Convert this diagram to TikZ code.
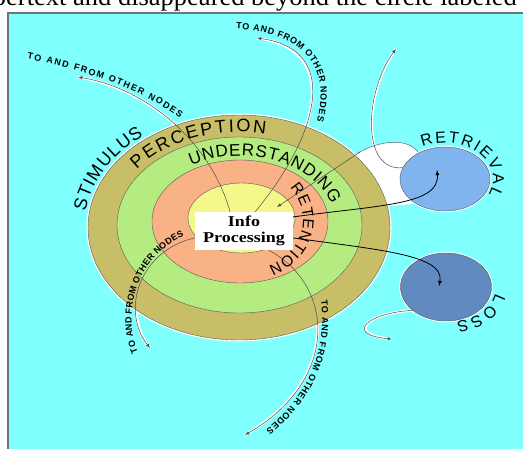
\documentclass[tikz,border=0pt]{standalone}
\usepackage{fontspec}
\usepackage{graphicx}
\setmainfont{Liberation Serif}
\newfontfamily\labelfont{Liberation Sans}
\usetikzlibrary{shapes.geometric,decorations.text}
\definecolor{sky}{RGB}{128,255,255}
\definecolor{ringolive}{RGB}{201,190,104}
\definecolor{ringgreen}{RGB}{181,236,130}
\definecolor{ringsalmon}{RGB}{249,177,134}
\definecolor{ringyellow}{RGB}{244,247,138}
\definecolor{retblue}{RGB}{128,180,238}
\definecolor{lossblue}{RGB}{96,138,192}
\pgfdeclarelayer{back}
\pgfdeclarelayer{halo}
\pgfsetlayers{back,halo,main}

\begin{document}
\begin{tikzpicture}
	[
		x                = 1pt,
		y                = -1pt,
		ring/.style      = {ellipse, draw=black!65, line width=.4pt, inner sep=0pt},
		link/.style      = {draw=black!70, line width=.5pt, -latex},
		flow/.style      = {draw=black, line width=.8pt, -latex},
		halo/.style      = {draw=white, line width=2.6pt},
		arclabel/.style 2 args = {decorate, decoration={text along path, text align={fit to path},
			text={|\fontsize{#1}{#1}\labelfont|#2}}},
		nodeslabel/.style = {decorate, decoration={text along path, text align={fit to path},
			text={|\fontsize{9}{10}\labelfont\bfseries|TO AND FROM OTHER NODES}}}
	]
	\useasboundingbox (0,0) rectangle (523,448);
	\clip (0,0) rectangle (523,448);
	\begin{pgfonlayer}{back}
		\node[anchor=base east, inner sep=0pt, font=\fontsize{26.5}{28}\selectfont] (caption) at (517,5)
			{pertext and disappeared beyond the circle labeled};
		\path[fill=sky, draw=black!55, line width=1.6pt] (8,13) rectangle (540,460);
	\end{pgfonlayer}

	\path[fill=white] (358,153) .. controls (380,140) and (412,136) .. (421,157) -- (412,204) -- (380,207) -- (330,175) -- cycle;
	\draw[black!60, line width=.5pt] (358,153) .. controls (380,140) and (412,136) .. (421,157);

	\node[ring, fill=ringolive, minimum width=302pt, minimum height=225pt, preaction={draw=white, line width=3pt}] (perception) at (239,227.5) {};
	\node[ring, fill=ringgreen, minimum width=245pt, minimum height=176pt] (understanding) at (239.5,225) {};
	\node[ring, fill=ringsalmon, minimum width=176pt, minimum height=123pt] (retention) at (240,221.5) {};
	\node[ring, fill=ringyellow, minimum width=107pt, minimum height=70pt] (core) at (241.5,218) {};
	\node[ring, fill=retblue, minimum width=90pt, minimum height=64pt, preaction={draw=white, line width=2.4pt}] (ret) at (445,179) {};
	\node[ring, fill=lossblue, minimum width=91pt, minimum height=68pt, preaction={draw=white, line width=2.4pt}] (loss) at (446,287) {};
	\node[fill=white, minimum width=98pt, minimum height=38pt, inner sep=0pt, align=center,
		font=\fontsize{15}{16}\selectfont\bfseries] (info) at (244,231)
		{\scalebox{1.2}[1]{Info}\\\scalebox{1.2}[1]{Processing}};

	\coordinate (ta) at (78,77);
	\coordinate (tb) at (257,38);
	\coordinate (tc) at (150,348);
	\coordinate (td) at (245,435);
	\coordinate (up) at (396,49);
	\coordinate (away) at (392,339);
	\coordinate (retin) at (437,170);
	\coordinate (lossin) at (439,286);
	\coordinate (backfrom) at (360,152);
	\coordinate (backtip) at (277,207);

	\begin{pgfonlayer}{halo}
		\draw[halo] (info.126) .. controls (210,140) and (145,88) .. (ta);
		\draw[halo] (info.60) .. controls (315,140) and (345,50) .. (tb);
		\draw[halo] (info.188) .. controls (140,250) and (120,310) .. (tc);
		\draw[halo] (info.322) .. controls (335,285) and (340,380) .. (td);
		\draw[halo] (ret.165) .. controls (360,172) and (365,90) .. (up);
		\draw[halo] (loss.215) .. controls (365,313) and (345,335) .. (away);
	\end{pgfonlayer}

	\draw[link] (info.126) .. controls (210,140) and (145,88) .. (ta);
	\draw[link] (info.60) .. controls (315,140) and (345,50) .. (tb);
	\draw[link] (info.188) .. controls (140,250) and (120,310) .. (tc);
	\draw[link] (info.322) .. controls (335,285) and (340,380) .. (td);
	\draw[flow] (info.16) .. controls (380,205) and (440,205) .. (retin);
	\draw[flow] (info.352) .. controls (380,250) and (445,255) .. (lossin);
	\draw[link] (backfrom) -- (backtip);
	\draw[link] (ret.165) .. controls (360,172) and (365,90) .. (up);
	\draw[link] (loss.215) .. controls (365,313) and (345,335) .. (away);

	\path[arclabel={18}{STIMULUS}] ([shift={(-172:155 and 116)}]239,227.5)
		arc[start angle=-172, end angle=-128, x radius=155, y radius=116];
	\path[arclabel={18}{PERCEPTION}] ([shift={(-143:128 and 94)}]239,226)
		arc[start angle=-143, end angle=-78, x radius=128, y radius=94];
	\path[arclabel={17}{UNDERSTANDING}] ([shift={(-121:95 and 67)}]240,223)
		arc[start angle=-121, end angle=-16, x radius=95, y radius=67];
	\path[arclabel={15.5}{RETENTION}] ([shift={(-38:62 and 52)}]241,220)
		arc[start angle=-38, end angle=64, x radius=62, y radius=52];
	\path[arclabel={16}{RETRIEVAL}] ([shift={(-118:48 and 36)}]445,179)
		arc[start angle=-118, end angle=25, x radius=48, y radius=36];
	\path[arclabel={16}{LOSS}] ([shift={(10:50 and 36)}]446,287)
		arc[start angle=10, end angle=78, x radius=50, y radius=36];

	\path[nodeslabel] (27,59) .. controls (80,69) and (140,88) .. (180,118);
	\path[nodeslabel] (236,29) .. controls (295,32) and (333,60) .. (317,121);
	\path[nodeslabel] (138,352) .. controls (122,315) and (135,258) .. (184,236);
	\path[nodeslabel] (321,300) .. controls (327,345) and (311,395) .. (266,430);
\end{tikzpicture}
\end{document}
